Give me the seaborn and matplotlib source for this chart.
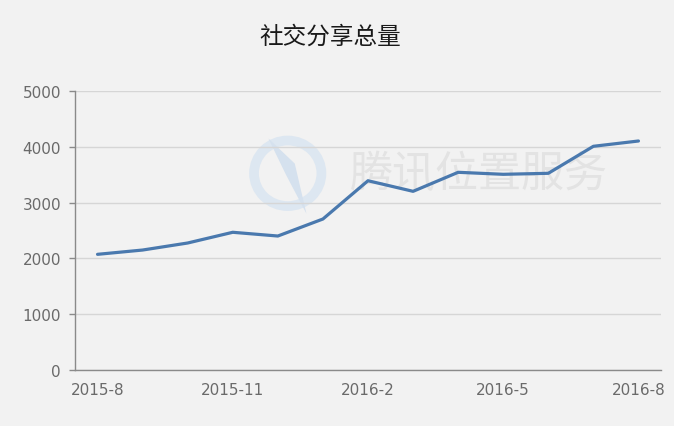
import matplotlib.pyplot as plt
import seaborn as sns
import pandas as pd
import numpy as np
from matplotlib.patches import Ellipse, Polygon

months = ["2015-8", "2015-9", "2015-10", "2015-11", "2015-12", "2016-1", "2016-2",
          "2016-3", "2016-4", "2016-5", "2016-6", "2016-7", "2016-8"]
shares = [2073, 2150, 2276, 2468, 2401, 2706, 3392, 3202, 3543, 3507, 3525, 4009, 4104]

sns.set_style("white")
plt.rcParams['font.family'] = ['DejaVu Sans', 'Noto Sans CJK SC']
cjk = ['Noto Sans CJK SC', 'DejaVu Sans']

bg = "#f2f2f2"
df = pd.DataFrame({"idx": np.arange(len(months)), "month": months, "value": shares})

fig = plt.figure(figsize=(6.74, 4.27), dpi=100, facecolor=bg)
ax = fig.add_axes([75 / 674, 56 / 427, 586 / 674, 279 / 427])
ax.set_facecolor(bg)

# watermark (text + rough logo)
ax.text(0.69, 0.705, "腾讯位置服务", transform=ax.transAxes, family=cjk, fontsize=31,
        color="#e3e3e3", ha="center", va="center", zorder=0)
ax.add_patch(Ellipse((0.363, 0.705), 0.115, 0.235, transform=ax.transAxes, fill=False,
                     lw=7, ec="#dde7f1", zorder=0))
ax.add_patch(Polygon([(0.33, 0.83), (0.375, 0.74), (0.395, 0.56), (0.36, 0.7)],
                     closed=True, transform=ax.transAxes, fc="#d5e1ee", ec="none", zorder=0))

sns.lineplot(data=df, x="idx", y="value", ax=ax, color="#4a79ae", linewidth=2.3, zorder=3)

ax.set_ylim(0, 5000)
ax.set_xlim(-0.5, len(months) - 0.5)
ax.set_yticks(range(0, 5001, 1000))
ax.yaxis.grid(True, color="#d6d6d6", linewidth=1)
ax.set_axisbelow(True)

# labels at band centers, tick marks at band edges
label_idx = list(range(0, len(months), 3))
ax.set_xticks(label_idx)
ax.set_xticklabels([months[i] for i in label_idx])
ax.set_xticks([i - 0.5 for i in label_idx], minor=True)
ax.tick_params(axis="x", which="major", length=0, pad=9, labelsize=11, labelcolor="#6a6a6a")
ax.tick_params(axis="x", which="minor", length=5, color="#8a8a8a", width=1)
ax.tick_params(axis="y", length=4, color="#8a8a8a", width=1, pad=6, labelsize=11,
               labelcolor="#6a6a6a", left=True)

for s in ["top", "right"]:
    ax.spines[s].set_visible(False)
for s in ["left", "bottom"]:
    ax.spines[s].set_color("#8a8a8a")
    ax.spines[s].set_linewidth(1)

ax.set_xlabel("")
ax.set_ylabel("")

fig.text(0.49, 0.913, "社交分享总量", family=cjk, fontsize=17, color="#1a1a1a",
         ha="center", va="center")

fig.savefig("out.png", dpi=100, facecolor=bg)
